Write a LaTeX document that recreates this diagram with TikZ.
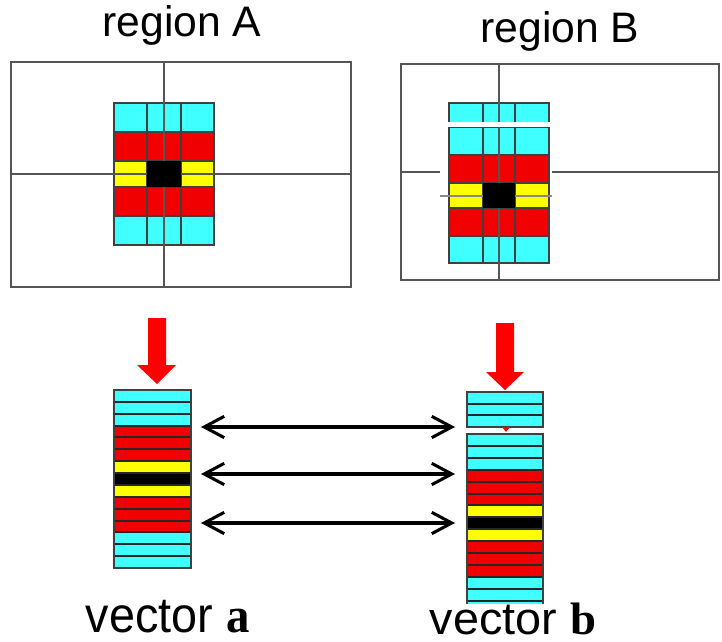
\documentclass[tikz,border=0pt]{standalone}
\usepackage{fontspec}
\setmainfont{Liberation Sans}
\newfontfamily\vecfont{Liberation Serif}
\usetikzlibrary{arrows.meta}
\definecolor{cellcyan}{RGB}{64,255,255}
\definecolor{cellred}{RGB}{240,0,0}
\definecolor{cellyellow}{RGB}{255,255,0}
\definecolor{framegray}{RGB}{85,85,85}

\begin{document}
\begin{tikzpicture}[x=0.75pt, y=-0.75pt,
	frame/.style={draw=framegray, line width=1.5pt},
	cross/.style={draw=framegray, line width=1.2pt},
	cell/.style={draw=black!75, line width=1pt},
	stripe/.style={draw=black!85, line width=1.5pt},
	match/.style={{Straight Barb[length=15pt,width=16pt]}-{Straight Barb[length=15pt,width=16pt]}, line width=2.3pt},
	regionlabel/.style={font=\fontsize{32}{36}\selectfont, anchor=base},
	veclabel/.style={font=\fontsize{33.4}{38}\selectfont, anchor=base west}]

	\useasboundingbox (0,0) rectangle (722,642);

	% Region A
	\draw[frame] (11,62) rectangle (351,287);
	\foreach \ya/\yb/\ca/\cb in {103/132/cellcyan/cellcyan, 132/161/cellred/cellred, 161/187/cellyellow/black, 187/216/cellred/cellred, 216/245/cellcyan/cellcyan} {
		\fill[\ca] (114,\ya) rectangle (147,\yb);
		\fill[\cb] (147,\ya) rectangle (181,\yb);
		\fill[\ca] (181,\ya) rectangle (214,\yb);
		\draw[cell] (114,\ya) rectangle (214,\yb);
	}
	\draw[cell] (147,103) -- (147,245);
	\draw[cell] (181,103) -- (181,245);
	\draw[cross] (164,62) -- (164,287);
	\draw[cross] (11,174) -- (351,174);
	\fill[black] (147,161) rectangle (181,187);

	% Region B
	\draw[frame] (401,64) rectangle (719,280);
	\foreach \ya/\yb/\ca/\cb in {103/127/cellcyan/cellcyan, 127/155/cellcyan/cellcyan, 155/183/cellred/cellred, 183/208/cellyellow/black, 208/236/cellred/cellred, 236/263/cellcyan/cellcyan} {
		\fill[\ca] (449,\ya) rectangle (483,\yb);
		\fill[\cb] (483,\ya) rectangle (515,\yb);
		\fill[\ca] (515,\ya) rectangle (549,\yb);
		\draw[cell] (449,\ya) rectangle (549,\yb);
	}
	\draw[cell] (483,103) -- (483,263);
	\draw[cell] (515,103) -- (515,263);
	\draw[cross] (499,64) -- (499,280);
	\draw[cross] (401,172) -- (440,172);
	\draw[cross] (552,172) -- (719,172);
	\draw[cross, framegray!70] (440,196) -- (552,196);
	\fill[black] (483,183) rectangle (515,208);
	\fill[white] (446,122) rectangle (551,127);

	% Red arrows
	\fill[red] (148,318) -- (166,318) -- (166,365) -- (176,365) -- (157,384) -- (137,365) -- (148,365) -- cycle;
	\fill[red] (496,323) -- (514,323) -- (514,372) -- (524,372) -- (505,390) -- (486,372) -- (496,372) -- cycle;

	% Vector a
	\foreach \c [count=\i from 0] in {cellcyan,cellcyan,cellcyan,cellred,cellred,cellred,cellyellow,black,cellyellow,cellred,cellred,cellred,cellcyan,cellcyan,cellcyan}
		\fill[\c] (114,{390+\i*11.87}) rectangle (191,{390+(\i+1)*11.87});
	\foreach \i in {1,...,14}
		\draw[stripe] (114,{390+\i*11.87}) -- (191,{390+\i*11.87});
	\draw[cell] (114,390) rectangle (191,568);

	% Vector b
	\foreach \i in {0,1,2}
		\fill[cellcyan] (467,{392+\i*11.67}) rectangle (543,{392+(\i+1)*11.67});
	\foreach \i in {1,2}
		\draw[stripe] (467,{392+\i*11.67}) -- (543,{392+\i*11.67});
	\draw[cell] (467,392) rectangle (543,427);
	\fill[red] (502,427) -- (510,427) -- (506,432) -- cycle;
	\begin{scope}
		\clip (460,430) rectangle (550,603);
		\foreach \c [count=\i from 0] in {cellcyan,cellcyan,cellcyan,cellred,cellred,cellred,cellyellow,black,cellyellow,cellred,cellred,cellred,cellcyan,cellcyan,cellcyan}
			\fill[\c] (467,{434+\i*11.9}) rectangle (543,{434+(\i+1)*11.9});
		\foreach \i in {1,...,14}
			\draw[stripe] (467,{434+\i*11.9}) -- (543,{434+\i*11.9});
		\draw[cell] (467,434) rectangle (543,620);
	\end{scope}

	% Matching arrows
	\coordinate (a1) at (201,427);
	\coordinate (a2) at (201,474);
	\coordinate (a3) at (201,523);
	\coordinate (b1) at (455,427);
	\coordinate (b2) at (455,474);
	\coordinate (b3) at (455,523);
	\draw[match] (a1) -- (b1);
	\draw[match] (a2) -- (b2);
	\draw[match] (a3) -- (b3);

	% Labels
	\node[regionlabel] (regA) at (182,37) {region A};
	\node[regionlabel] (regB) at (560,43) {region B};
	\node[veclabel] (vecA) at (81,632) {\scalebox{1.05}[1.12]{vector {\vecfont\bfseries a}}};
	\node[veclabel] (vecB) at (425,634) {\scalebox{1.05}[1.02]{vector {\vecfont\bfseries b}}};
\end{tikzpicture}
\end{document}
